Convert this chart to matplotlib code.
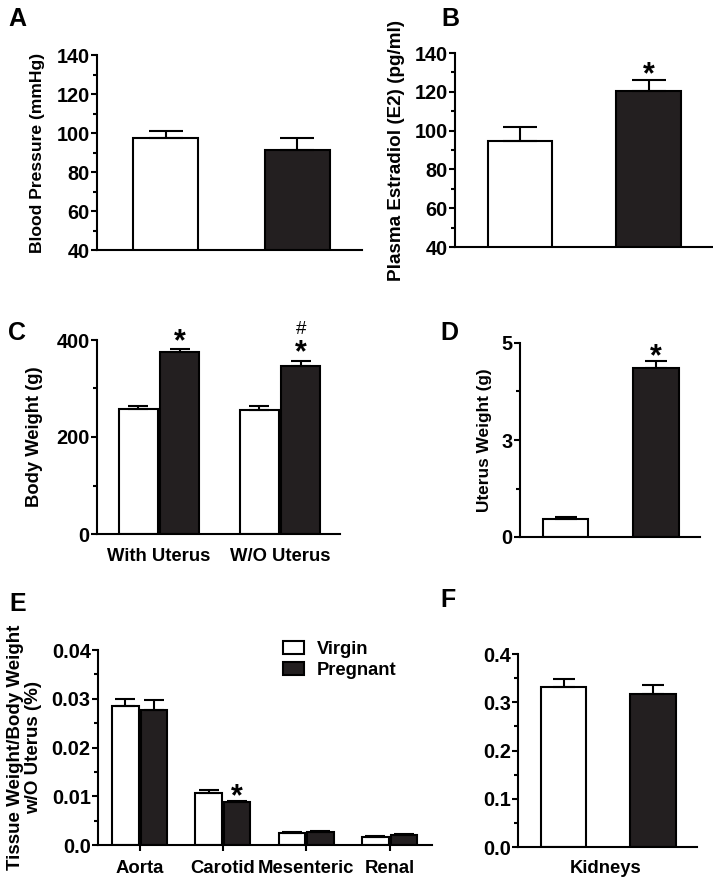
import numpy as np
import matplotlib
matplotlib.use("Agg")
import matplotlib.pyplot as plt
from matplotlib.ticker import MultipleLocator, FixedLocator
from matplotlib.patches import Patch

# Data (mean and SEM, SEM drawn upward only)
groups = ["Virgin", "Pregnant"]
bp_mean = [97.5, 91.5]
bp_sem = [3.5, 6.0]
e2_mean = [94.5, 120.5]
e2_sem = [7.3, 5.8]
bw_labels = ["With Uterus", "W/O Uterus"]
bw_virgin = [257, 256]
bw_virgin_sem = [7, 7]
bw_preg = [375, 347]
bw_preg_sem = [6, 10]
uw_mean = [0.47, 4.36]
uw_sem = [0.05, 0.18]
tissue_labels = ["Aorta", "Carotid", "Mesenteric", "Renal"]
tissue_virgin = [0.0285, 0.0107, 0.0025, 0.0016]
tissue_virgin_sem = [0.0015, 0.0006, 0.0002, 0.0003]
tissue_preg = [0.0277, 0.00875, 0.0027, 0.0020]
tissue_preg_sem = [0.0020, 0.0002, 0.0002, 0.0002]
kid_labels = ["Kidneys"]
kid_mean = [0.331, 0.318]
kid_sem = [0.018, 0.018]

W, H = 713, 880
DARK = "#231f20"
TICK_FS = 14.3
plt.rcParams["font.family"] = ["Liberation Sans", "DejaVu Sans"]
plt.rcParams["font.weight"] = "bold"
plt.rcParams["axes.labelweight"] = "bold"
plt.rcParams["axes.linewidth"] = 1.5

fig = plt.figure(figsize=(W / 100, H / 100), dpi=100)


def px_axes(left, top, right, bottom):
    # place an axes by its pixel box (measured from top-left of the figure)
    ax = fig.add_axes([left / W, 1 - bottom / H, (right - left) / W, (bottom - top) / H])
    ax.spines["top"].set_visible(False)
    ax.spines["right"].set_visible(False)
    ax.tick_params(axis="y", which="major", direction="out", length=4.5, width=1.5,
                   labelsize=TICK_FS, pad=0.8)
    ax.tick_params(axis="y", which="minor", direction="out", length=3, width=1.5)
    ax.tick_params(axis="x", length=0, labelsize=13.3, pad=10)
    ax.set_facecolor("none")
    return ax


def ylabel_at(ax, text, right_px, left_px, width_px, size=13):
    ax.set_ylabel(text, fontsize=size, linespacing=1.05)
    ax.yaxis.set_label_coords((right_px - left_px) / width_px, 0.5)


def bars(ax, x, vals, sems, color, width, capsize):
    ax.bar(x, vals, width=width, color=color, edgecolor="black", linewidth=1.5, zorder=2)
    ax.errorbar(x, vals, yerr=[np.zeros(len(vals)), sems], fmt="none", ecolor="black",
                elinewidth=1.5, capsize=capsize, capthick=1.5, zorder=3)


def mark(ax, x, y, gap, text="*", size=22, weight="bold", ink_mid=0.43):
    # gap = pixels from the cap to the middle of the glyph ink
    em = size * 100 / 72
    ax.annotate(text, (x, y), xytext=(0, gap - ink_mid * em), textcoords="offset pixels",
                ha="center", va="baseline", fontsize=size, fontweight=weight)


x2 = np.arange(2)

# A - blood pressure
axA = px_axes(97, 55, 362, 250)
bars(axA, x2, bp_mean, bp_sem, ["white", DARK], 0.494, 12)
axA.set_ylim(40, 140)
axA.set_xlim(-0.521, 1.494)
axA.yaxis.set_major_locator(MultipleLocator(20))
axA.yaxis.set_minor_locator(MultipleLocator(10))
axA.set_xticks([])
ylabel_at(axA, "Blood Pressure (mmHg)", 45, 97, 265, size=12.6)

# B - estradiol
axB = px_axes(455, 53, 713, 247)
bars(axB, x2, e2_mean, e2_sem, ["white", DARK], 0.50, 12)
axB.set_ylim(40, 140)
axB.set_xlim(-0.506, 1.502)
axB.yaxis.set_major_locator(MultipleLocator(20))
axB.yaxis.set_minor_locator(MultipleLocator(10))
axB.set_xticks([])
ylabel_at(axB, "Plasma Estradiol (E2) (pg/ml)", 405, 455, 258, size=13.6)
mark(axB, 1, e2_mean[1] + e2_sem[1], 9)

# C - body weight
axC = px_axes(97, 340, 340, 534)
bars(axC, x2 - 0.171, bw_virgin, bw_virgin_sem, "white", 0.318, 7)
bars(axC, x2 + 0.171, bw_preg, bw_preg_sem, DARK, 0.318, 7)
axC.set_ylim(0, 400)
axC.set_xlim(-0.512, 1.496)
axC.yaxis.set_major_locator(MultipleLocator(200))
axC.yaxis.set_minor_locator(MultipleLocator(100))
axC.set_xticks(x2)
axC.set_xticklabels(bw_labels)
ylabel_at(axC, "Body Weight (g)", 43, 97, 243, size=13.2)
mark(axC, 0.171, bw_preg[0] + bw_preg_sem[0], 12)
mark(axC, 1.171, bw_preg[1] + bw_preg_sem[1], 12.5)
mark(axC, 1.171, bw_preg[1] + bw_preg_sem[1], 33, text="#", size=13.5, weight="normal", ink_mid=0.35)

# D - uterus weight
axD = px_axes(520, 343, 700, 537)
bars(axD, x2, uw_mean, uw_sem, ["white", DARK], 0.503, 8)
axD.set_ylim(0, 5)
axD.set_xlim(-0.503, 1.486)
axD.yaxis.set_major_locator(FixedLocator([0, 2.5, 5]))
axD.set_yticklabels(["0", "3", "5"])
axD.yaxis.set_minor_locator(FixedLocator([1.25, 3.75]))
axD.set_xticks([])
ylabel_at(axD, "Uterus Weight (g)", 492, 520, 180, size=12.4)
mark(axD, 1, uw_mean[1] + uw_sem[1], 9)

# E - tissue weights
x4 = np.arange(4)
axE = px_axes(98, 650, 432, 845)
bars(axE, x4 - 0.171, tissue_virgin, tissue_virgin_sem, "white", 0.318, 7)
bars(axE, x4 + 0.171, tissue_preg, tissue_preg_sem, DARK, 0.318, 7)
axE.set_ylim(0, 0.04)
axE.set_xlim(-0.498, 3.51)
axE.yaxis.set_major_locator(MultipleLocator(0.01))
axE.yaxis.set_minor_locator(MultipleLocator(0.005))
axE.yaxis.set_major_formatter(lambda v, p: f"{v:.2f}" if v > 0 else "0.0")
axE.set_xticks(x4)
axE.set_xticklabels(tissue_labels)
axE.tick_params(axis="x", length=4.5, width=1.5, pad=6.3)
ylabel_at(axE, "Tissue Weight/Body Weight\nw/O Uterus (%)", 42, 98, 334, size=13.5)
mark(axE, 1.171, tissue_preg[1] + tissue_preg_sem[1], 9)
handles = [Patch(facecolor="white", edgecolor="black", linewidth=1.5, label=groups[0]),
           Patch(facecolor=DARK, edgecolor="black", linewidth=1.5, label=groups[1])]
axE.legend(handles=handles, loc="upper left", bbox_to_anchor=(0.554, 1.046), frameon=False,
           fontsize=13.2, handlelength=1.15, handleheight=0.7, handletextpad=0.7,
           labelspacing=0.2, borderpad=0, borderaxespad=0)

# F - kidneys
axF = px_axes(518, 654, 697, 847)
bars(axF, x2, kid_mean, kid_sem, ["white", DARK], 0.508, 8)
axF.set_ylim(0, 0.4)
axF.set_xlim(-0.508, 1.49)
axF.yaxis.set_major_locator(MultipleLocator(0.1))
axF.yaxis.set_minor_locator(MultipleLocator(0.05))
axF.yaxis.set_major_formatter(lambda v, p: f"{v:.1f}")
axF.set_xticks([0.47])
axF.set_xticklabels(kid_labels)
axF.tick_params(axis="x", pad=9.4)

# panel letters
for letter, (xp, yp) in {"A": (8, 7), "B": (441, 7), "C": (8, 321), "D": (440, 321),
                          "E": (9, 592), "F": (440, 588)}.items():
    fig.text(xp / W, 1 - yp / H, letter, fontsize=18, fontweight="bold", ha="left", va="top")

fig.savefig("out.png", dpi=100)
